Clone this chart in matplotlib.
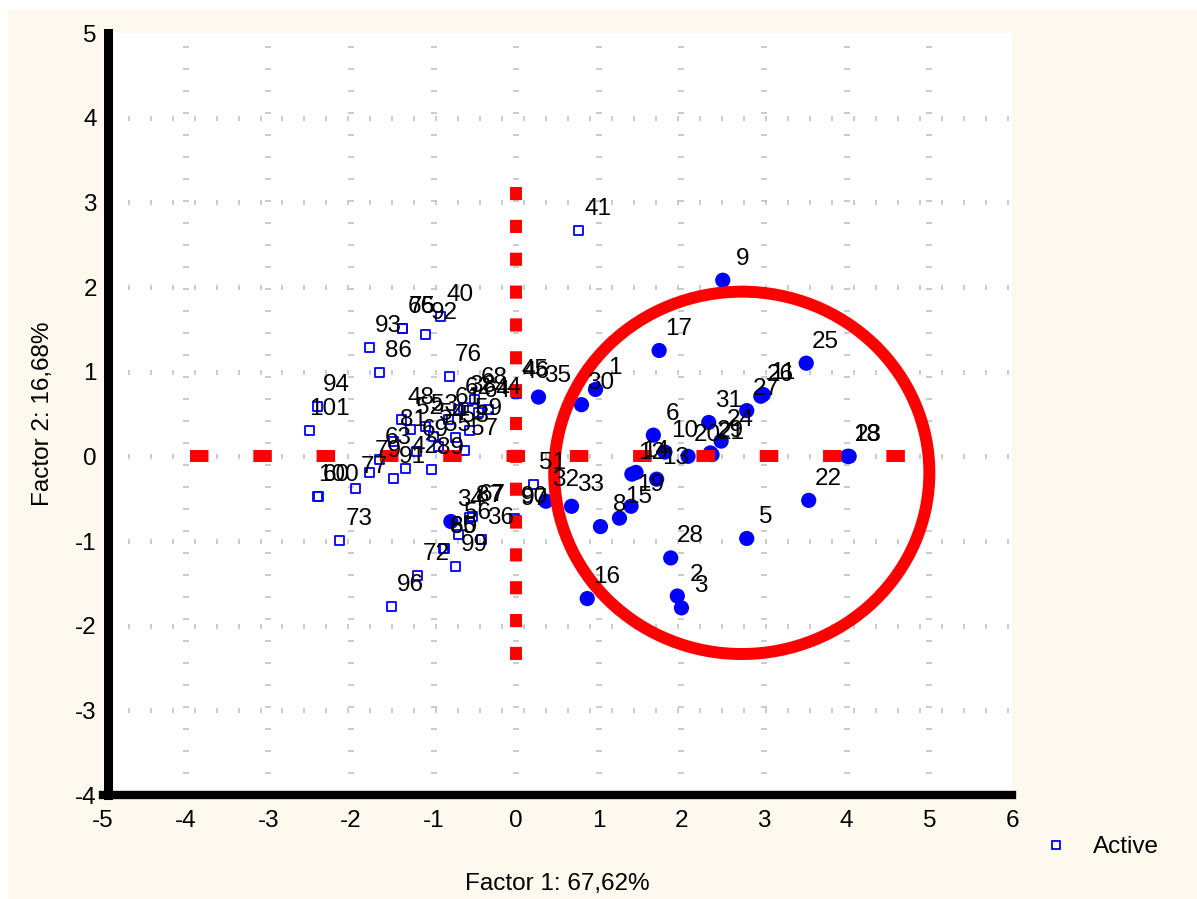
"""Factor plane (Factor 1 x Factor 2) with highlighted group."""
import matplotlib.pyplot as plt
import numpy as np
from matplotlib.patches import Ellipse, Rectangle
from matplotlib.lines import Line2D

plt.rcParams['font.family'] = ['Liberation Sans', 'DejaVu Sans']
plt.rcParams['axes.unicode_minus'] = False

# filled (blue dots) cases
sup_labels = ['1', '2', '3', '5', '6', '8', '9', '10', '11', '12', '13', '14', '15',
              '16', '17', '18', '19', '20', '21', '22', '23', '24', '25', '26', '27',
              '28', '29', '30', '31', '32', '33', '34', '35']
sup_x = [0.96, 1.95, 2.00, 2.79, 1.66, 1.02, 2.50, 1.80, 2.99, 1.40, 1.70, 1.45, 1.25,
         0.86, 1.73, 4.01, 1.39, 2.08, 2.37, 3.54, 4.03, 2.48, 3.51, 2.96, 2.79,
         1.87, 2.35, 0.79, 2.33, 0.36, 0.67, -0.79, 0.27]
sup_y = [0.79, -1.65, -1.79, -0.97, 0.25, -0.83, 2.08, 0.05, 0.73, -0.21, -0.27, -0.19, -0.73,
         -1.68, 1.25, 0.00, -0.59, 0.00, 0.02, -0.52, 0.00, 0.18, 1.10, 0.71, 0.54,
         -1.20, 0.04, 0.61, 0.40, -0.53, -0.59, -0.77, 0.70]

# active cases (open squares)
act_labels = ['36', '38', '40', '41', '42', '44', '45', '46', '51', '56', '60', '100',
              '63', '65', '80', '66', '75', '67', '87', '72', '73', '76', '77', '79',
              '86', '89', '90', '97', '91', '92', '93', '94', '96', '99', '101',
              '48', '52', '53', '54', '55', '57', '58', '59', '61', '62', '64', '68',
              '69', '81']
act_x = [-0.42, -0.64, -0.92, 0.76, -1.34, -0.34, -0.01, 0.00, 0.21, -0.70, -2.41, -2.39,
         -1.66, -0.88, -0.87, -1.38, -1.37, -0.53, -0.56, -1.20, -2.14, -0.81, -1.95, -1.78,
         -1.66, -1.03, -0.02, -0.01, -1.49, -1.10, -1.78, -2.41, -1.51, -0.74, -2.50,
         -1.39, -1.28, -1.10, -1.00, -0.94, -0.62, -0.73, -0.57, -0.82, -0.70, -0.46, -0.50,
         -1.21, -1.48]
act_y = [-0.98, 0.58, 1.65, 2.67, -0.14, 0.55, 0.76, 0.74, -0.33, -0.92, -0.47, -0.47,
         -0.04, -1.09, -1.09, 1.51, 1.51, -0.71, -0.72, -1.41, -0.99, 0.94, -0.38, -0.19,
         0.99, -0.15, -0.74, -0.76, -0.26, 1.44, 1.28, 0.59, -1.77, -1.30, 0.31,
         0.43, 0.32, 0.35, 0.24, 0.12, 0.07, 0.22, 0.30, 0.44, 0.55, 0.52, 0.67,
         0.06, 0.17]

# red reference lines and circled group
hline_x = [-3.95, 4.72]
vline_y = [-2.4, 3.4]
circle_center = (2.73, -0.195)
circle_w, circle_h = 4.54, 4.28

fig = plt.figure(figsize=(11.97, 8.99), dpi=100, facecolor='white')
fig.patches.append(Rectangle((8 / 1197, 0), 1, (899 - 10) / 899,
                             transform=fig.transFigure, color='#FDF9EF', zorder=-10))

ax = fig.add_axes([103 / 1197, 104 / 899, 909 / 1197, 762 / 899])
ax.set_facecolor('white')
ax.set_xlim(-5, 6)
ax.set_ylim(-4, 5)

# dotted grid: small perpendicular marks
gx = np.arange(-4.69, 6.0, 0.266)
gy = np.arange(-4 + 0.26, 5.0, 0.26)
for yv in range(-3, 5):
    ax.plot(gx, np.full(len(gx), yv), ls='none', marker='|', ms=3.6, mew=1.1,
            color='#BDBDBD', zorder=1)
for xv in range(-4, 6):
    ax.plot(np.full(len(gy), xv), gy, ls='none', marker='_', ms=4.3, mew=1.1,
            color='#BDBDBD', zorder=1)

ax.scatter(act_x, act_y, s=42, marker='s', facecolors='none', edgecolors='#0000FF',
           linewidths=1.3, zorder=3)
ax.scatter(sup_x, sup_y, s=120, c='#0000FF', edgecolors='none', zorder=3)

ax.plot(hline_x, [0, 0], color='red', lw=8.6, dashes=(1.55, 3.75),
        dash_capstyle='butt', zorder=4)
ax.plot([0, 0], vline_y, color='red', lw=8.6, dashes=(1.1, 1.65),
        dash_capstyle='butt', zorder=4)
ax.add_patch(Ellipse(circle_center, circle_w, circle_h, fill=False,
                     edgecolor='red', lw=8.6, zorder=4))

for lab, x, y in zip(sup_labels + act_labels, sup_x + act_x, sup_y + act_y):
    ax.annotate(lab, (x, y), xytext=(14, 15.5), textcoords='offset points',
                ha='center', va='center', fontsize=17.5, zorder=5)

for s in ['top', 'right']:
    ax.spines[s].set_visible(False)
ax.spines['left'].set_linewidth(6.5)
ax.spines['left'].set_position(('outward', -3.6))
ax.spines['bottom'].set_linewidth(6)
ax.spines['left'].set_capstyle('projecting')

ax.set_xticks(range(-5, 7))
ax.set_yticks(range(-4, 6))
ax.tick_params(length=0, labelsize=17.5)
ax.tick_params(axis='x', pad=11)
ax.tick_params(axis='y', pad=8)
ax.set_xlabel('Factor 1: 67,62%', fontsize=17.5, labelpad=29)
ax.set_ylabel('Factor 2: 16,68%', fontsize=17.5, labelpad=15)

handle = Line2D([], [], marker='s', ls='none', mfc='none', mec='#0000FF', ms=6, mew=1.3)
fig.legend([handle], ['Active'], loc='center left',
           bbox_to_anchor=(1022 / 1197, 1 - 847 / 899), frameon=False, fontsize=17.5,
           handlelength=2, handletextpad=0.5, borderpad=0.4, borderaxespad=0)

plt.savefig('out.png', dpi=100, facecolor=fig.get_facecolor())
plt.close()
